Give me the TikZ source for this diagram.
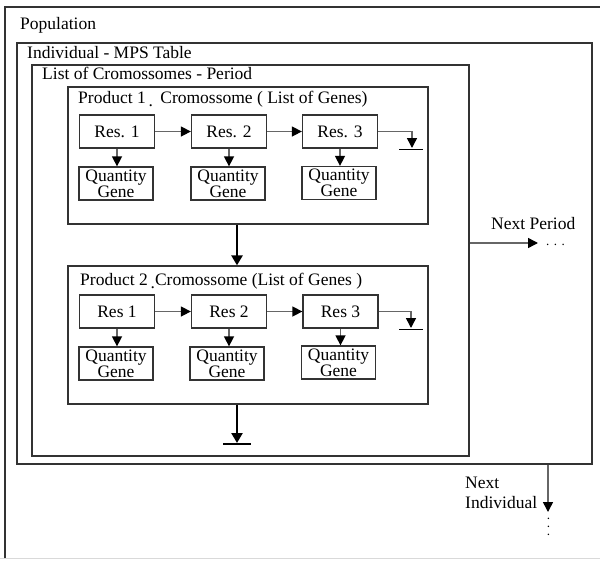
\documentclass[tikz,border=0pt]{standalone}
\usepackage{fontspec}
\setmainfont{Liberation Serif}
\usetikzlibrary{arrows.meta}
\begin{document}
\begin{tikzpicture}[x=1pt,y=-1pt,
  box/.style={draw=black!80,line width=1.3pt,inner sep=0pt},
  resbox/.style={box,minimum width=75pt,minimum height=33pt,font=\fontsize{17.5}{17.5}\selectfont},
  qgbox/.style={box,minimum width=74pt,minimum height=33pt,align=center,font=\fontsize{17.5}{14}\selectfont},
  lbl/.style={anchor=base west,inner sep=0pt,font=\fontsize{17.5}{17.5}\selectfont},
  dots/.style={inner sep=0pt,text height=2pt,text depth=0pt,font=\fontsize{13}{13}\selectfont},
  arr/.style={draw=black!60,line width=1.5pt,-{Triangle[length=10pt,width=10pt,color=black]}},
  bigarr/.style={draw=black,line width=2.8pt,-{Triangle[length=10pt,width=11pt]}},
  gnd/.style={draw=black,line width=1.3pt}]
\useasboundingbox (0,0) rectangle (600,560);
\fill[white] (0,0) rectangle (600,560);
% Population (cut off at right)
\draw[black!15,line width=1pt] (0,558.5) -- (600,558.5);
\draw[box] (5,558) -- (5,7) -- (600,7);
% containers
\node[box,minimum width=575pt,minimum height=421pt] (ind) at (304.5,253.5) {};
\node[box,minimum width=437pt,minimum height=391pt] (list) at (250.5,260.5) {};
\node[box,minimum width=360pt,minimum height=137pt] (p1) at (248,155.5) {};
\node[box,minimum width=360pt,minimum height=138pt] (p2) at (248,335) {};
% titles
\node[lbl] (tpop) at (20,29) {Population};
\node[lbl] (tind) at (27,58) {Individual - MPS Table};
\node[lbl] (tlist) at (42,79) {List of Cromossomes - Period};
\node[lbl] (tp1) at (78,103) {Product 1\,\raisebox{-3pt}{.}\, Cromossome ( List of Genes)};
\node[lbl] (tp2) at (80,285) {Product 2\,\raisebox{-3pt}{.}Cromossome (List of Genes )};
% product 1
\node[resbox] (r11) at (117,131.5) {Res. 1};
\node[resbox] (r12) at (229,131.5) {Res. 2};
\node[resbox] (r13) at (340,131.5) {Res. 3};
\node[qgbox] (q11) at (116,183.5) {Quantity\\Gene};
\node[qgbox] (q12) at (228,183.5) {Quantity\\Gene};
\node[qgbox] (q13) at (339,183) {Quantity\\Gene};
\draw[arr] (r11) -- (r12);
\draw[arr] (r12) -- (r13);
\draw[arr] (r11.south) -- (r11.south |- q11.north);
\draw[arr] (r12.south) -- (r12.south |- q12.north);
\draw[arr] (r13.south) -- (r13.south |- q13.north);
\coordinate (e1) at (412,148);
\coordinate (g1l) at (399,149.5);
\coordinate (g1r) at (423,149.5);
\draw[arr] (r13.east) -| (e1);
\draw[gnd] (g1l) -- (g1r);
% product 2
\node[resbox] (r21) at (117,311.5) {Res 1};
\node[resbox] (r22) at (229,311.5) {Res 2};
\node[resbox] (r23) at (340.5,311.5) {Res 3};
\node[qgbox] (q21) at (116,363.5) {Quantity\\Gene};
\node[qgbox] (q22) at (227,363.5) {Quantity\\Gene};
\node[qgbox] (q23) at (338.5,362.5) {Quantity\\Gene};
\draw[arr] (r21) -- (r22);
\draw[arr] (r22) -- (r23);
\draw[arr] (r21.south) -- (r21.south |- q21.north);
\draw[arr] (r22.south) -- (r22.south |- q22.north);
\draw[arr] (r23.south) -- (r23.south |- q23.north);
\coordinate (e2) at (411,328);
\coordinate (g2l) at (399,329.5);
\coordinate (g2r) at (423,329.5);
\draw[arr] (r23.east) -| (e2);
\draw[gnd] (g2l) -- (g2r);
% between products
\coordinate (mx) at (237,0);
\draw[bigarr] (mx |- p1.south) -- (mx |- p2.north);
\coordinate (g3) at (237,443);
\coordinate (g3l) at (223,444);
\coordinate (g3r) at (251,444);
\draw[bigarr] (mx |- p2.south) -- (g3);
\draw[gnd] (g3l) -- (g3r);
% next period
\coordinate (np) at (538,243);
\draw[arr] (np -| list.east) -- (np);
\node[lbl] (tnp) at (491,229) {Next Period};
\node[dots,anchor=base west] (dnp) at (546,245) {.\hspace{4.5pt}.\hspace{4.5pt}.};
% next individual
\coordinate (ni) at (548,512);
\draw[arr] (ni |- ind.south) -- (ni);
\node[lbl] (tni1) at (465,488) {Next};
\node[lbl] (tni2) at (465,508) {Individual};
\node[dots,anchor=base,rotate=90] (dni) at (549,527) {.\hspace{5pt}.\hspace{5pt}.};
\end{tikzpicture}
\end{document}
